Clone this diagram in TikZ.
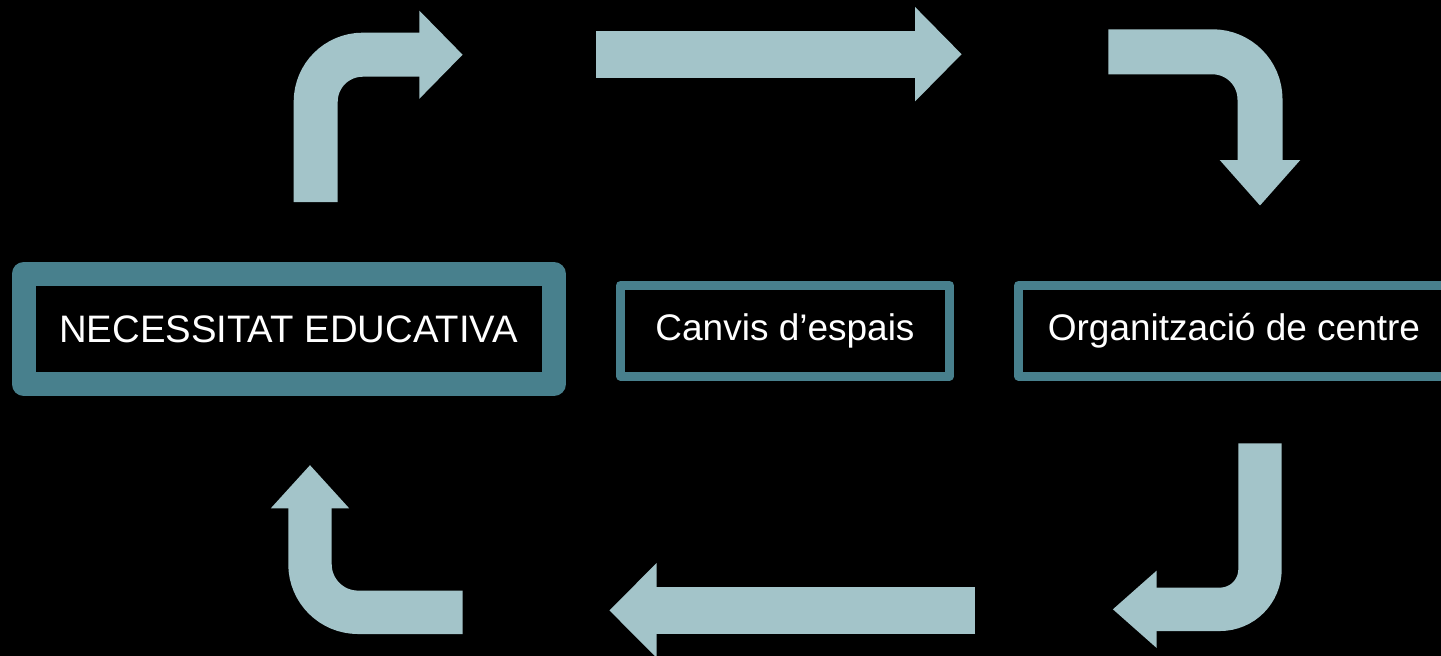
\documentclass[tikz,border=0pt]{standalone}
\usepackage{fontspec}
\setmainfont{Liberation Sans}
\usetikzlibrary{arrows.meta}
\definecolor{arrowteal}{RGB}{163,196,201}
\definecolor{boxteal}{RGB}{72,128,141}
\tikzset{
	cyclearrow/.style={draw=arrowteal, line cap=butt},
	mainbox/.style={draw=boxteal, line width=24pt, line join=round, minimum width=530pt, minimum height=110.5pt, text=white, font=\fontsize{38.3pt}{46pt}\selectfont},
	stepbox/.style={draw=boxteal, line width=9pt, line join=round, minimum height=90.5pt, text=white, text height=27pt, text depth=8pt, font=\fontsize{37pt}{44pt}\selectfont}
}
\begin{document}
\begin{tikzpicture}[x=1pt,y=-1pt]
		\useasboundingbox (0,0) rectangle (1441,656);
		\fill[black] (0,0) rectangle (1441,656);
		\clip (0,0) rectangle (1441,656);
		% boxes
		\node[mainbox] (need) at (288.7,329) {NECESSITAT EDUCATIVA};
		\node[stepbox, minimum width=329pt] (spaces) at (785,330.75) {Canvis d’espais};
		\node[stepbox, minimum width=431pt] (centre) at (1234,330.75) {Organització de centre};
		% arrow ends
		\coordinate (upS) at (315.7,202);
		\coordinate (upE) at (462.7,54.7);
		\coordinate (topS) at (596,54.2);
		\coordinate (topE) at (961.7,54.2);
		\coordinate (downS) at (1108.3,51.8);
		\coordinate (downE) at (1260,205.7);
		\coordinate (backS) at (1260,443.3);
		\coordinate (backE) at (1112.7,609.3);
		\coordinate (botS) at (975,610.4);
		\coordinate (botE) at (609.3,610.4);
		\coordinate (leftS) at (462.7,612.3);
		\coordinate (leftE) at (310,465);
		% arrows
		\draw[cyclearrow, line width=44pt, -{Triangle[width=85.6pt,length=43.4pt]}] (upS) [rounded corners=47pt] |- (upE);
		\draw[cyclearrow, line width=47pt, -{Triangle[width=91.7pt,length=46.7pt]}] (topS) -- (topE);
		\draw[cyclearrow, line width=45pt, -{Triangle[width=77.6pt,length=45.7pt]}] (downS) [rounded corners=47.5pt] -| (downE);
		\draw[cyclearrow, line width=43.4pt, -{Triangle[width=74.6pt,length=44pt]}] (backS) [rounded corners=40pt] |- (backE);
		\draw[cyclearrow, line width=47.3pt, -{Triangle[width=92pt,length=47.4pt]}] (botS) -- (botE);
		\draw[cyclearrow, line width=43.4pt, -{Triangle[width=75.6pt,length=43.3pt]}] (leftS) [rounded corners=48pt] -| (leftE);
	\end{tikzpicture}
\end{document}
